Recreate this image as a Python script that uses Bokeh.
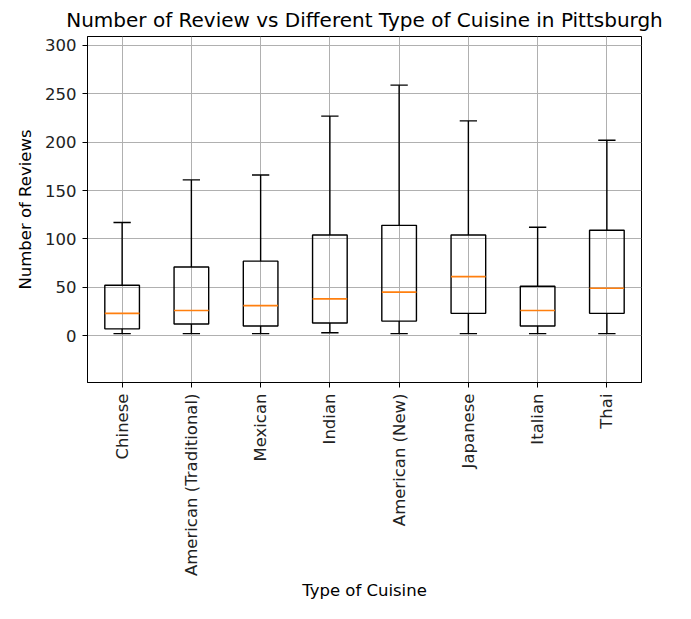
import numpy as np
from bokeh.plotting import figure
from bokeh.models import ColumnDataSource, Range1d, FixedTicker
from bokeh.embed import file_html
from bokeh.resources import INLINE

# box statistics (number of reviews)
cuisines = ["Chinese", "American (Traditional)", "Mexican", "Indian",
            "American (New)", "Japanese", "Italian", "Thai"]
whisker_low = [2, 2, 2, 3, 2, 2, 2, 2]
q1 = [7, 12, 10, 13, 15, 23, 10, 23]
median = [23, 26, 31, 38, 45, 61, 26, 49]
q3 = [52, 71, 77, 104, 114, 104, 51, 109]
whisker_high = [117, 161, 166, 227, 259, 222, 112, 202]
y_ticks = [0, 50, 100, 150, 200, 250, 300]

FONT = "DejaVu Sans"
pos = list(range(1, len(cuisines) + 1))
box_w, cap_w = 0.5, 0.25

src = ColumnDataSource(dict(
    x=pos, lo=whisker_low, q1=q1, med=median, q3=q3, hi=whisker_high,
    x_box0=[x - box_w / 2 for x in pos], x_box1=[x + box_w / 2 for x in pos],
    x_cap0=[x - cap_w / 2 for x in pos], x_cap1=[x + cap_w / 2 for x in pos],
))

p = figure(width=675, height=603, output_backend="svg", toolbar_location=None,
           title="Number of Review vs Different Type of Cuisine in Pittsburgh",
           x_range=Range1d(0.5, len(cuisines) + 0.5), y_range=Range1d(-48.5, 309.3),
           min_border_left=87, min_border_right=34, min_border_top=35, min_border_bottom=0)

# whiskers and caps
p.segment("x", "q3", "x", "hi", source=src, line_color="black", line_width=1.4)
p.segment("x", "lo", "x", "q1", source=src, line_color="black", line_width=1.4)
p.segment("x_cap0", "hi", "x_cap1", "hi", source=src, line_color="black", line_width=1.4)
p.segment("x_cap0", "lo", "x_cap1", "lo", source=src, line_color="black", line_width=1.4)
# boxes
p.quad(left="x_box0", right="x_box1", bottom="q1", top="q3", source=src,
       fill_color=None, line_color="black", line_width=1.4)
# medians
p.segment("x_box0", "med", "x_box1", "med", source=src, line_color="#ff7f0e", line_width=1.6)

p.title.text_font = FONT
p.title.text_font_size = "20px"
p.title.text_font_style = "normal"
p.title.align = "center"
p.title.text_color = "black"
p.title.standoff = 10

p.xaxis.ticker = FixedTicker(ticks=pos)
p.xaxis.major_label_overrides = {x: c for x, c in zip(pos, cuisines)}
p.xaxis.major_label_orientation = np.pi / 2
p.yaxis.ticker = FixedTicker(ticks=y_ticks)
p.xaxis.axis_label = "Type of Cuisine"
p.yaxis.axis_label = "Number of Reviews"

for ax in (p.xaxis, p.yaxis):
    ax.axis_label_text_font = FONT
    ax.axis_label_text_font_size = "16.5px"
    ax.axis_label_text_font_style = "normal"
    ax.axis_label_text_color = "black"
    ax.major_label_text_font = FONT
    ax.major_label_text_font_size = "16.5px"
    ax.major_label_text_color = "#222222"
    ax.major_tick_out = 5
    ax.major_tick_in = 0
    ax.minor_tick_line_color = None
    ax.axis_line_color = "black"
    ax.major_tick_line_color = "black"
p.xaxis.major_label_standoff = 6
p.xaxis.axis_label_standoff = 2
p.yaxis.major_label_standoff = 6
p.yaxis.axis_label_standoff = 7

p.grid.grid_line_color = "#b0b0b0"
p.grid.grid_line_width = 1
p.outline_line_color = "black"
p.outline_line_alpha = 1
p.outline_line_width = 1
p.background_fill_color = "white"
p.border_fill_color = "white"

open("out.html", "w").write(file_html(p, INLINE))
